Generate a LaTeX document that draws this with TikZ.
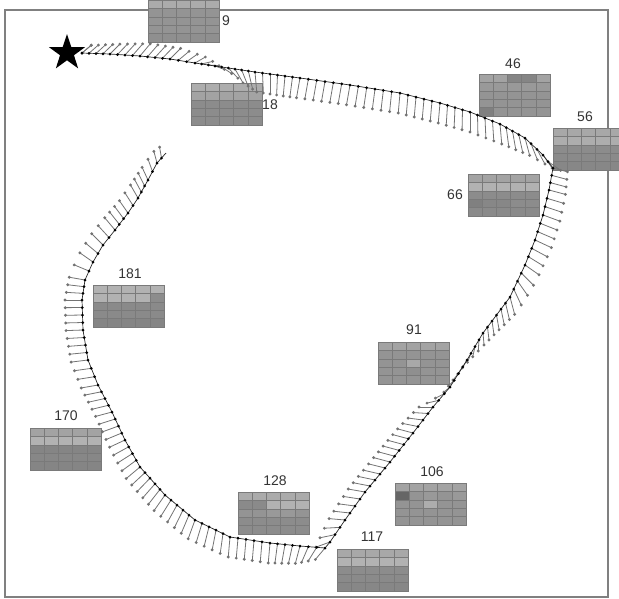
\documentclass[tikz,border=0pt]{standalone}
\usepackage{fontspec}
\setmainfont{Liberation Sans}
\usetikzlibrary{shapes.geometric}
\pgfdeclarelayer{back}
\pgfsetlayers{back,main}
\begin{document}
\begin{tikzpicture}[
  x=1pt, y=-1pt,
  frame/.style={draw=black!50, line width=1.2pt},
  cell/.style={draw=black!52, line width=0.3pt},
  lab/.style={font=\fontsize{14}{16}\selectfont, text=black!80, inner sep=0pt},
  pin/.style={draw=black!55, line width=0.8pt},
  track/.style={draw=black!85, line width=0.7pt, line join=round}
]
\useasboundingbox (0,0) rectangle (619,598);
% x/y/angle/length of the pins along the run
\def\trackpts{82/53/-40/12, 110/54/-45/14, 140/56/-50/16, 170/59/-45/15,
  195/63/-30/12, 215/66/20/10, 235/69/60/16, 255/72/85/20, 300/78/100/20,
  350/85/100/20, 400/93/95/20, 440/103/95/20, 470/112/90/20, 500/124/85/20,
  525/138/75/18, 543/155/55/16, 553/168/15/15,
  549/190/15/17, 543/215/20/18, 535/240/25/18, 525/265/35/17, 510/297/75/18,
  483/333/85/12, 467/360/120/9, 450/387/140/8, 433/407/180/14, 413/433/195/16,
  390/462/195/17, 365/492/190/17, 345/520/185/16, 330/542/160/15,
  325/548/130/15, 300/546/105/18, 270/543/95/20, 230/537/95/20, 195/520/110/20,
  165/495/125/19, 140/467/140/18, 125/440/155/17, 112/412/165/17, 98/385/170/17,
  88/360/173/17, 83/330/178/17, 82/300/180/17, 85/280/190/16,
  93/262/215/16, 103/245/225/16, 115/230/230/16, 128/213/235/15,
  138/198/240/15, 148/180/245/14, 157/163/255/12, 166/153/265/10}

\begin{pgfonlayer}{back}
\draw[frame] (5,10) rectangle (608,597);
% grids with their step numbers
\foreach \gx/\gy/\lab/\lx/\ly/\shades in {
  148/0/9/226/21/{33,33,33,33,33,42,42,42,42,42,42,42,42,42,42,42,42,42,42,42,44,44,44,44,44},
  191/83/18/270/105/{32,32,32,32,32,36,36,36,36,36,45,45,45,45,45,45,45,45,45,45,45,45,45,45,45},
  479/74/46/513/64/{36,36,48,48,36,40,40,40,40,40,42,42,42,42,42,42,42,42,42,42,50,42,42,42,42},
  553/128/56/585/117/{34,34,34,34,34,32,32,32,32,32,45,45,45,45,45,46,46,46,46,46,47,47,47,47,47},
  468/174/66/455/195/{36,36,36,36,36,30,30,30,30,30,45,45,45,45,45,50,47,47,45,45,46,46,46,46,46},
  93/285/181/130/274/{30,30,30,30,30,30,30,30,30,45,46,46,46,46,46,46,46,46,46,46,48,48,48,48,48},
  378/342/91/414/330/{36,36,36,36,36,42,42,42,42,42,42,42,34,42,42,42,42,44,42,42,42,42,42,42,42},
  30/428/170/66/416/{36,36,36,36,36,30,30,30,30,30,48,48,48,48,48,47,47,47,47,47,48,48,48,48,48},
  238/492/128/275/481/{33,33,33,33,33,46,46,30,30,30,42,42,40,40,42,45,45,45,45,45,45,45,45,45,45},
  395/483/106/432/472/{36,36,36,36,36,60,42,40,42,40,42,42,32,42,42,42,42,42,42,42,42,42,42,42,42},
  337/549/117/372/537/{34,34,34,34,34,30,30,30,30,30,45,45,45,45,45,46,46,46,46,46,47,47,47,47,47}}{
  \foreach \s [count=\k from 0] in \shades {
    \pgfmathtruncatemacro\col{mod(\k,5)}
    \pgfmathtruncatemacro\row{div(\k,5)}
    \filldraw[cell, fill=black!\s] ({\gx+\col*14.2},{\gy+\row*8.4}) rectangle ++(14.2,8.4);
  }
  \node[lab] (g\lab) at (\lx,\ly) {\lab};
}
\end{pgfonlayer}

\node[star, star points=5, star point ratio=2.6, fill=black,
      minimum size=38pt, inner sep=0pt] (start) at (67,53) {};

% the run: pins behind, track and positions in front
\foreach \x/\y/\a/\l [remember=\x as \px (initially 82), remember=\y as \py (initially 53),
    remember=\a as \pa (initially -40), remember=\l as \pl (initially 12)] in \trackpts {
  \pgfmathsetmacro\seg{veclen(\x-\px,\y-\py)}
  \pgfmathtruncatemacro\n{max(1,round(\seg/8))}
  \draw[track] (\px,\py) -- (\x,\y);
  \foreach \i in {1,...,\n}{
    \pgfmathsetmacro\t{(\i-1)/\n}
    \pgfmathsetmacro\sx{\px+(\x-\px)*\t}
    \pgfmathsetmacro\sy{\py+(\y-\py)*\t}
    \pgfmathsetmacro\sa{\pa+(\a-\pa)*\t}
    \pgfmathsetmacro\sl{\pl+(\l-\pl)*\t}
    \begin{pgfonlayer}{back}
      \draw[pin] (\sx,\sy) -- ++(\sa:\sl) coordinate (tip);
      \fill[black!55] (tip) circle[radius=1.6pt];
    \end{pgfonlayer}
    \fill[black] (\sx,\sy) circle[radius=1.5pt];
  }
}
\end{tikzpicture}
\end{document}
